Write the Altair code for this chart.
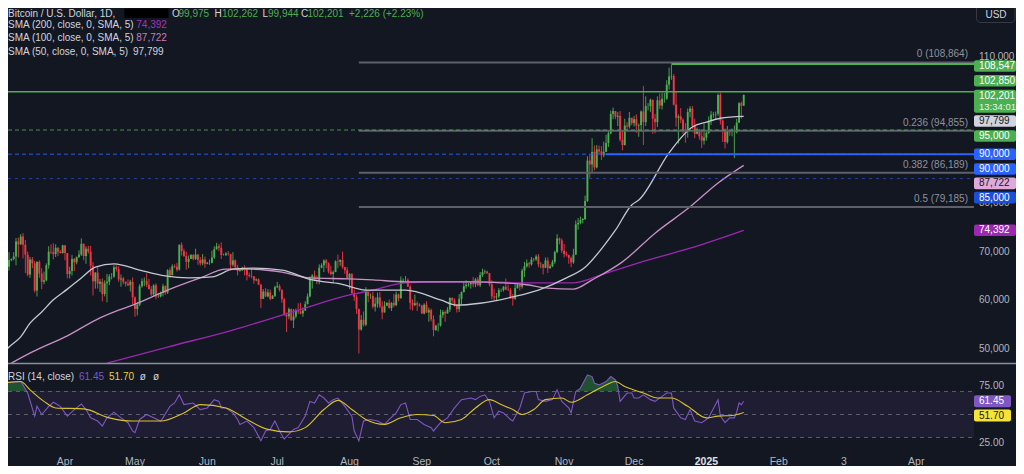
import altair as alt
import pandas as pd
from datetime import datetime, timedelta, timezone

# ---------------------------------------------------------------- data
# BTC/USD daily candles, values in thousand USD, 2024-03-04 .. 2025-01-17
FIRST_DAY = "2024-03-04"
FIRST_OPEN = 63.1

CLOSE_MAR = [68.3, 63.8, 66.1, 66.9, 68.3, 68.5, 69.0, 72.1, 71.5, 73.1, 71.4, 69.4, 65.3, 68.4,
             67.6, 62.0, 67.9, 65.5, 63.8, 64.1, 67.2, 70.0, 69.9, 69.5, 70.8, 70.0, 69.7, 71.3]
HIGH_MAR = [68.5, 69.2, 67.6, 67.9, 69.9, 68.6, 69.9, 72.8, 72.9, 73.6, 73.8, 72.4, 70.0, 68.9,
            68.9, 68.1, 68.0, 68.2, 66.6, 65.9, 67.6, 71.1, 71.5, 71.7, 71.5, 70.9, 70.3, 71.4]
LOW_MAR = [62.4, 59.2, 62.8, 65.7, 66.1, 68.0, 68.2, 67.2, 68.8, 71.4, 68.6, 65.6, 64.9, 64.6,
           66.6, 61.6, 60.8, 64.6, 62.3, 63.3, 63.9, 66.5, 69.5, 68.4, 68.9, 69.1, 69.6, 69.6]

CLOSE_APR = [69.7, 65.4, 66.0, 68.5, 67.8, 68.9, 69.4, 71.6, 69.1, 70.6, 70.0, 67.1, 63.9, 65.7, 63.4,
             63.8, 61.3, 63.5, 63.8, 64.9, 64.9, 66.8, 66.4, 64.3, 64.5, 63.8, 63.4, 63.1, 63.8, 60.6]
HIGH_APR = [71.3, 69.7, 66.9, 69.3, 68.7, 69.0, 70.3, 72.7, 71.7, 71.1, 71.2, 71.2, 67.9, 65.8, 66.8,
            64.4, 64.5, 64.1, 65.4, 65.4, 65.6, 67.2, 67.2, 67.0, 65.3, 64.8, 63.9, 64.3, 64.2, 64.7]
LOW_APR = [68.2, 64.5, 64.5, 65.1, 66.0, 67.4, 68.7, 69.1, 68.2, 67.5, 69.6, 65.1, 61.0, 62.4, 62.4,
           61.7, 59.8, 60.8, 59.6, 63.1, 64.3, 64.6, 65.9, 63.8, 62.8, 63.3, 62.8, 62.9, 61.8, 59.1]

CLOSE_MAY = [58.2, 59.1, 62.9, 63.9, 64.0, 63.2, 62.3, 61.2, 63.1, 60.8, 60.8, 61.5, 62.9, 61.6, 66.2, 65.2,
             67.0, 66.9, 66.3, 71.4, 70.1, 69.1, 67.9, 68.5, 69.3, 68.5, 69.4, 68.3, 67.6, 68.4, 67.5]
HIGH_MAY = [60.8, 59.6, 63.3, 64.5, 64.7, 65.5, 64.4, 62.9, 63.3, 63.5, 61.5, 61.8, 63.4, 63.1, 66.4, 66.7,
            67.4, 67.4, 67.7, 71.5, 71.9, 70.6, 70.0, 69.2, 69.5, 69.5, 70.6, 69.5, 68.9, 69.5, 69.0]
LOW_MAY = [56.6, 56.9, 58.8, 62.6, 62.9, 62.7, 62.2, 60.9, 60.7, 60.2, 60.5, 60.6, 60.8, 61.1, 61.3, 64.6,
           65.1, 66.6, 65.9, 66.1, 69.2, 68.9, 66.3, 66.6, 68.5, 68.2, 68.3, 67.3, 67.1, 67.2, 66.7]

CLOSE_JUN = [67.7, 67.7, 68.8, 70.5, 71.1, 70.8, 69.3, 69.3, 69.6, 69.5, 67.3, 68.2, 66.8, 66.0, 66.2,
             66.6, 66.5, 65.2, 65.0, 64.9, 64.1, 64.3, 63.2, 60.3, 61.8, 60.8, 61.6, 60.3, 60.9, 62.7]
HIGH_JUN = [67.9, 68.4, 70.2, 71.1, 71.8, 71.6, 71.9, 69.6, 69.9, 70.1, 69.6, 69.9, 68.4, 67.3, 66.4,
            66.9, 67.2, 66.6, 65.7, 66.5, 65.0, 64.5, 64.5, 63.4, 62.3, 62.5, 62.3, 62.2, 61.1, 63.0]
LOW_JUN = [67.4, 67.3, 67.6, 68.5, 70.4, 70.1, 68.5, 69.2, 69.1, 69.2, 66.1, 66.9, 66.3, 65.1, 65.9,
           66.0, 65.1, 64.1, 64.7, 64.5, 63.4, 63.9, 63.2, 58.4, 60.3, 60.7, 60.6, 60.0, 60.3, 60.7]

CLOSE_JUL = [62.9, 62.1, 60.2, 57.0, 56.7, 58.2, 55.9, 56.7, 58.0, 57.7, 57.3, 57.9, 59.2, 60.8, 64.8, 65.1,
             64.1, 63.9, 66.7, 67.2, 68.2, 67.6, 65.9, 65.4, 65.8, 68.0, 67.9, 68.3, 66.8, 66.2, 64.6]
HIGH_JUL = [63.8, 63.3, 62.3, 60.5, 57.5, 58.5, 58.3, 58.2, 58.3, 59.4, 59.5, 58.5, 59.8, 61.4, 64.9, 65.4,
            66.1, 65.1, 67.4, 67.6, 68.4, 68.5, 67.8, 67.1, 66.1, 68.2, 69.4, 68.4, 70.0, 66.9, 66.8]
LOW_JUL = [62.5, 61.8, 59.5, 56.8, 53.5, 56.1, 55.8, 54.3, 56.3, 57.2, 57.1, 56.6, 57.8, 59.2, 60.6, 62.4,
           63.9, 63.3, 63.3, 66.6, 65.8, 66.6, 65.5, 65.1, 63.5, 65.8, 66.6, 67.1, 66.5, 65.4, 64.5]

CLOSE_AUG = [65.4, 61.5, 60.7, 58.2, 54.0, 56.0, 55.0, 61.7, 60.9, 60.9, 58.7, 59.3, 60.6, 58.7, 57.5, 58.9,
             59.5, 58.4, 59.5, 59.0, 61.2, 60.4, 64.1, 64.2, 64.2, 62.8, 59.5, 59.0, 59.4, 59.1, 58.9]
HIGH_AUG = [65.6, 65.6, 62.2, 61.1, 58.3, 57.0, 57.7, 62.7, 61.7, 61.4, 61.8, 60.6, 61.6, 61.7, 59.8, 59.8,
            59.6, 60.2, 59.6, 61.3, 61.8, 61.4, 64.9, 64.5, 65.0, 64.5, 63.2, 60.2, 61.2, 59.8, 59.4]
LOW_AUG = [62.3, 61.2, 59.9, 57.2, 49.1, 53.8, 54.6, 54.7, 59.6, 60.3, 58.3, 57.7, 58.5, 58.4, 56.1, 57.5,
           58.8, 58.3, 57.8, 58.6, 58.8, 59.8, 60.4, 63.6, 63.8, 62.8, 58.1, 57.9, 58.8, 57.8, 58.7]

CLOSE_SEP = [57.3, 59.1, 57.5, 58.0, 56.1, 53.9, 54.8, 54.8, 57.0, 57.6, 57.3, 58.1, 60.5, 60.0, 59.1,
             58.2, 60.3, 61.7, 62.9, 63.2, 63.3, 63.6, 63.3, 64.3, 63.1, 65.2, 65.8, 65.9, 65.6, 63.3]
HIGH_SEP = [59.1, 59.4, 59.8, 58.5, 58.3, 56.9, 55.0, 55.3, 58.1, 58.0, 57.9, 58.6, 60.6, 60.6, 60.4,
            59.2, 61.3, 61.8, 63.8, 64.1, 63.6, 63.9, 64.8, 64.6, 64.8, 65.8, 66.5, 66.3, 66.1, 65.6]
LOW_SEP = [57.2, 57.1, 57.4, 55.6, 55.7, 52.6, 53.7, 53.6, 54.6, 56.4, 55.6, 57.3, 57.6, 59.5, 58.7,
           57.5, 57.6, 59.2, 61.6, 62.4, 62.8, 62.4, 62.7, 62.7, 62.9, 62.7, 64.8, 65.4, 65.4, 62.9]

CLOSE_OCT = [60.8, 60.6, 60.8, 62.1, 62.1, 62.8, 62.2, 62.1, 60.6, 60.3, 62.5, 63.2, 62.8, 66.1, 67.0, 67.6,
             67.4, 68.4, 68.4, 69.0, 67.4, 67.4, 66.7, 68.2, 66.6, 67.0, 67.9, 69.9, 72.7, 72.3, 70.2]
HIGH_OCT = [64.1, 62.4, 61.5, 62.5, 62.4, 62.9, 64.5, 63.2, 62.5, 61.3, 63.4, 63.5, 63.3, 66.5, 67.9, 68.4,
            67.9, 68.9, 68.7, 69.4, 69.5, 67.8, 67.5, 68.8, 68.8, 67.4, 68.3, 70.2, 73.6, 72.9, 72.7]
LOW_OCT = [60.2, 60.0, 59.8, 60.5, 61.7, 61.8, 62.1, 61.9, 60.3, 58.9, 60.1, 62.4, 62.0, 62.4, 64.8, 66.7,
           66.7, 67.1, 68.0, 68.1, 66.8, 66.6, 65.3, 66.6, 65.6, 66.5, 66.8, 67.5, 69.7, 71.5, 69.7]

CLOSE_NOV = [69.5, 69.3, 68.7, 67.8, 69.4, 75.6, 75.9, 76.5, 76.7, 80.4, 88.7, 87.9, 90.5, 87.3, 91.0,
             90.6, 89.8, 90.5, 92.3, 94.3, 98.3, 98.9, 97.7, 97.9, 93.0, 91.9, 95.9, 95.7, 97.5, 96.4]
HIGH_NOV = [71.6, 70.0, 69.4, 69.0, 70.6, 76.4, 76.9, 77.2, 76.9, 81.5, 89.6, 89.9, 93.3, 91.8, 91.9,
            91.8, 91.7, 92.6, 94.0, 94.9, 99.0, 99.6, 98.9, 98.7, 98.9, 94.7, 97.3, 96.6, 98.7, 97.5]
LOW_NOV = [68.8, 69.0, 67.5, 66.8, 67.5, 69.3, 74.5, 75.6, 75.8, 76.5, 80.2, 85.2, 86.3, 86.7, 87.1,
           90.1, 88.8, 89.4, 90.5, 91.5, 94.1, 97.2, 97.2, 95.8, 92.6, 90.8, 91.8, 94.7, 95.3, 96.0]

CLOSE_DEC = [97.2, 95.9, 96.0, 98.8, 96.6, 99.9, 99.9, 101.2, 97.3, 96.6, 101.1, 100.0, 101.4, 101.4, 104.3, 106.0,
             106.1, 100.2, 97.5, 97.8, 97.1, 95.1, 94.7, 98.7, 99.4, 95.8, 94.2, 95.1, 93.7, 92.8, 93.4]
HIGH_DEC = [97.9, 98.2, 96.3, 99.0, 104.0, 101.9, 100.5, 101.4, 101.2, 98.3, 101.9, 102.5, 102.6, 102.6, 105.2, 107.8,
            108.4, 106.5, 102.8, 98.2, 99.5, 97.4, 96.4, 99.4, 99.9, 99.9, 97.3, 95.5, 95.2, 94.9, 96.2]
LOW_DEC = [95.7, 94.4, 93.6, 94.7, 91.9, 95.8, 99.0, 98.7, 94.2, 94.3, 95.6, 99.3, 99.2, 100.6, 101.2, 103.3,
           105.3, 100.0, 95.7, 92.2, 96.4, 94.2, 92.4, 93.4, 97.6, 95.2, 93.3, 94.1, 93.0, 91.3, 92.0]

CLOSE_JAN = [94.4, 96.9, 98.1, 98.2, 98.3, 102.2, 96.9, 95.0, 92.5, 94.7, 94.5, 94.5, 94.5, 96.5, 100.5, 99.975, 102.201]
HIGH_JAN = [94.9, 97.8, 98.9, 98.7, 98.8, 102.5, 102.7, 97.2, 95.3, 95.8, 94.9, 95.3, 95.9, 97.3, 100.7, 100.8, 102.262]
LOW_JAN = [92.8, 94.2, 96.0, 97.5, 97.3, 97.9, 96.1, 92.5, 91.2, 92.2, 93.8, 93.7, 89.2, 94.3, 96.5, 97.3, 99.944]

# moving averages (thousand USD)
SMA50_DATES = ["2024-03-04", "2024-03-08", "2024-03-13", "2024-03-17", "2024-03-22", "2024-03-27", "2024-04-02",
               "2024-04-08", "2024-04-14", "2024-04-22", "2024-05-03", "2024-05-14", "2024-05-24", "2024-06-03",
               "2024-06-12", "2024-06-21", "2024-07-03", "2024-07-16", "2024-07-28", "2024-08-08", "2024-08-25",
               "2024-09-09", "2024-09-16", "2024-09-26", "2024-10-10", "2024-10-21", "2024-11-02", "2024-11-10",
               "2024-11-19", "2024-11-23", "2024-11-30", "2024-12-03", "2024-12-16", "2024-12-26", "2025-01-01",
               "2025-01-07", "2025-01-17"]
SMA50 = [48.2, 50.4, 52.5, 55.3, 57.6, 60.1, 62.3, 64.6, 66.8, 67.5, 66.2, 65.0, 64.6, 64.8, 66.4, 66.6, 66.2,
         64.2, 63.4, 62.1, 62.1, 60.1, 59.0, 59.4, 60.7, 62.1, 64.6, 66.8, 71.8, 74.4, 79.6, 80.6, 90.3, 95.6,
         96.6, 97.4, 97.799]

SMA100_DATES = ["2024-03-09", "2024-03-18", "2024-04-02", "2024-04-16", "2024-04-24", "2024-04-30", "2024-05-15",
                "2024-05-29", "2024-06-09", "2024-06-19", "2024-07-03", "2024-07-15", "2024-08-01", "2024-08-11",
                "2024-08-25", "2024-09-09", "2024-09-23", "2024-10-05", "2024-10-16", "2024-10-25", "2024-11-05",
                "2024-11-13", "2024-11-26", "2024-12-10", "2024-12-25", "2025-01-06", "2025-01-17"]
SMA100 = [47.1, 49.4, 52.7, 56.4, 58.0, 59.0, 62.1, 64.6, 66.4, 66.4, 65.8, 64.6, 64.4, 64.2, 63.8, 63.8, 63.8,
          63.6, 63.2, 62.5, 62.3, 64.2, 67.9, 73.8, 79.2, 84.1, 87.722]

SMA200_DATES = ["2024-04-19", "2024-05-15", "2024-06-12", "2024-07-10", "2024-08-01", "2024-08-11", "2024-08-25",
                "2024-09-09", "2024-09-30", "2024-10-14", "2024-11-05", "2024-11-19", "2024-12-03", "2024-12-25",
                "2025-01-17"]
SMA200 = [47.1, 50.4, 53.9, 58.0, 61.1, 62.1, 63.6, 63.8, 63.8, 63.6, 63.6, 65.6, 67.7, 70.7, 74.392]

# RSI (14) and its moving average
RSI_DATES = ["2024-03-04", "2024-03-13", "2024-03-14", "2024-03-16", "2024-03-19", "2024-03-20", "2024-03-22",
             "2024-03-25", "2024-03-27", "2024-03-30",
             "2024-04-02", "2024-04-05", "2024-04-08", "2024-04-10", "2024-04-12", "2024-04-15", "2024-04-17",
             "2024-04-19", "2024-04-22", "2024-04-25", "2024-04-28", "2024-04-30",
             "2024-05-01", "2024-05-03", "2024-05-06", "2024-05-09", "2024-05-12", "2024-05-13", "2024-05-16",
             "2024-05-18", "2024-05-20", "2024-05-22", "2024-05-26", "2024-05-29",
             "2024-06-01", "2024-06-04", "2024-06-06", "2024-06-07", "2024-06-09", "2024-06-12", "2024-06-14",
             "2024-06-15", "2024-06-18", "2024-06-21", "2024-06-24", "2024-06-26", "2024-06-28", "2024-06-30",
             "2024-07-02", "2024-07-04", "2024-07-06", "2024-07-08", "2024-07-10", "2024-07-13", "2024-07-15",
             "2024-07-17", "2024-07-19", "2024-07-21", "2024-07-23", "2024-07-25", "2024-07-27", "2024-07-30",
             "2024-08-02", "2024-08-03", "2024-08-05", "2024-08-07", "2024-08-10", "2024-08-13", "2024-08-16",
             "2024-08-18", "2024-08-21", "2024-08-23", "2024-08-25", "2024-08-27", "2024-08-30",
             "2024-09-02", "2024-09-05", "2024-09-06", "2024-09-09", "2024-09-12", "2024-09-15", "2024-09-18",
             "2024-09-22", "2024-09-24", "2024-09-26", "2024-09-28", "2024-09-30",
             "2024-10-02", "2024-10-04", "2024-10-06", "2024-10-09", "2024-10-10", "2024-10-13", "2024-10-15",
             "2024-10-18", "2024-10-20", "2024-10-21", "2024-10-24", "2024-10-27", "2024-10-29", "2024-10-31",
             "2024-11-03", "2024-11-04", "2024-11-06", "2024-11-08", "2024-11-11", "2024-11-13", "2024-11-14",
             "2024-11-16", "2024-11-19", "2024-11-21", "2024-11-23", "2024-11-24", "2024-11-25", "2024-11-28",
             "2024-11-30",
             "2024-12-01", "2024-12-03", "2024-12-05", "2024-12-08", "2024-12-10", "2024-12-13", "2024-12-15",
             "2024-12-17", "2024-12-18", "2024-12-21", "2024-12-23", "2024-12-25", "2024-12-27", "2024-12-30",
             "2025-01-02", "2025-01-03", "2025-01-06", "2025-01-07", "2025-01-09", "2025-01-11", "2025-01-13",
             "2025-01-14", "2025-01-15", "2025-01-16", "2025-01-17"]
RSI = [77.1, 78.6, 75.7, 68.6, 48.6, 57.1, 50.0, 57.1, 60.6, 57.1,
       48.6, 54.3, 59.1, 54.3, 47.1, 44.3, 40.0, 47.1, 52.0, 47.1, 42.9, 35.7,
       34.3, 45.7, 50.0, 47.1, 44.3, 47.1, 57.1, 60.0, 67.1, 58.6, 60.0, 54.3,
       55.7, 62.9, 61.4, 55.7, 55.7, 51.4, 45.7, 41.4, 44.3, 38.6, 27.1, 35.7, 37.1, 44.3,
       35.7, 28.6, 32.9, 37.1, 38.6, 48.6, 61.4, 60.0, 67.1, 64.3, 60.0, 62.9, 64.3, 57.1,
       48.6, 35.7, 27.1, 44.3, 45.7, 44.3, 41.4, 45.7, 51.4, 58.6, 60.0, 45.7, 45.7,
       41.4, 38.6, 35.7, 42.9, 47.1, 55.7, 62.9, 64.3, 62.9, 65.7, 67.1, 61.4,
       47.1, 52.9, 51.4, 45.7, 44.3, 55.7, 68.6, 70.0, 70.0, 62.9, 61.4, 62.9, 71.4, 61.4,
       55.7, 51.4, 70.0, 72.9, 84.3, 82.9, 77.1, 75.7, 78.6, 82.9, 80.0, 74.3, 61.4, 68.6, 68.6,
       64.3, 64.3, 67.1, 62.9, 61.4, 65.7, 68.6, 68.6, 55.7, 47.1, 45.7, 54.3, 44.3, 42.9,
       47.1, 51.4, 62.9, 48.6, 42.9, 47.1, 47.1, 52.0, 60.0, 58.5, 61.45]

RSI_MA_DATES = ["2024-03-04", "2024-03-13", "2024-03-17", "2024-03-23", "2024-03-28", "2024-04-09", "2024-04-20",
                "2024-04-30", "2024-05-12", "2024-05-22", "2024-05-29", "2024-06-09", "2024-06-18", "2024-06-27",
                "2024-07-06", "2024-07-13", "2024-07-21", "2024-07-27", "2024-08-02", "2024-08-08", "2024-08-16",
                "2024-08-23", "2024-08-30", "2024-09-06", "2024-09-11", "2024-09-18", "2024-09-24", "2024-09-30",
                "2024-10-05", "2024-10-10", "2024-10-14", "2024-10-19", "2024-10-24", "2024-10-31", "2024-11-04",
                "2024-11-11", "2024-11-19", "2024-11-23", "2024-11-27", "2024-12-05", "2024-12-11", "2024-12-17",
                "2024-12-24", "2025-01-01", "2025-01-06", "2025-01-12", "2025-01-17"]
RSI_MA = [77.1, 78.6, 71.4, 61.4, 55.7, 54.9, 47.1, 44.3, 44.3, 51.4, 58.6, 55.7, 45.7, 37.1, 34.9, 38.6,
          54.3, 62.3, 54.3, 45.7, 41.4, 47.1, 50.0, 49.1, 42.9, 45.7, 55.7, 62.9, 58.6, 54.3, 50.0, 54.3,
          62.9, 64.3, 60.6, 67.1, 75.7, 78.6, 74.3, 68.6, 64.3, 64.3, 57.1, 47.1, 48.6, 49.1, 51.7]

# drawn levels (thousand USD)
FULL_LEVELS = [102.85, 95.0, 90.0, 85.0]
PART_LEVELS = [108.547, 90.0]
PART_STARTS = ["2024-12-17", "2024-11-19"]
FIB_START = "2024-08-05"
FIB_LEVELS = [108.864, 94.855, 86.189, 79.185]
FIB_TEXT = ["0 (108,864)", "0.236 (94,855)", "0.382 (86,189)", "0.5 (79,185)"]

# price scale
PRICE_TICKS = [110, 100, 90, 80, 70, 60, 50]
PRICE_TICK_TEXT = ["110,000", "100,000", "90,000", "80,000", "70,000", "60,000", "50,000"]
BOX_VALUES = [108.547, 102.85, 97.799, 95.0, 90.0, 90.0, 87.722, 85.0, 74.392]
BOX_TEXT = ["108,547", "102,850", "97,799", "95,000", "90,000", "90,000", "87,722", "85,000", "74,392"]
LAST_PRICE = 102.201
LAST_TEXT = "102,201"
COUNTDOWN = "13:34:01"
RSI_TICKS = [75, 25]
RSI_TICK_TEXT = ["75.00", "25.00"]
RSI_LAST = 61.45
RSI_MA_LAST = 51.70

# time axis
TIME_TICKS = ["2024-04-01", "2024-05-01", "2024-06-01", "2024-07-01", "2024-08-01", "2024-09-01",
              "2024-10-01", "2024-11-01", "2024-12-01", "2025-01-01", "2025-02-01", "2025-03-01", "2025-04-01"]
TIME_TEXT = ["Apr", "May", "Jun", "Jul", "Aug", "Sep", "Oct", "Nov", "Dec", "2025", "Feb", "3", "Apr"]

# ---------------------------------------------------------------- frames
closes = (CLOSE_MAR + CLOSE_APR + CLOSE_MAY + CLOSE_JUN + CLOSE_JUL + CLOSE_AUG + CLOSE_SEP +
          CLOSE_OCT + CLOSE_NOV + CLOSE_DEC + CLOSE_JAN)
highs = (HIGH_MAR + HIGH_APR + HIGH_MAY + HIGH_JUN + HIGH_JUL + HIGH_AUG + HIGH_SEP +
         HIGH_OCT + HIGH_NOV + HIGH_DEC + HIGH_JAN)
lows = (LOW_MAR + LOW_APR + LOW_MAY + LOW_JUN + LOW_JUL + LOW_AUG + LOW_SEP +
        LOW_OCT + LOW_NOV + LOW_DEC + LOW_JAN)
opens = [FIRST_OPEN] + closes[:-1]
days = pd.date_range(FIRST_DAY, periods=len(closes), freq="D").strftime("%Y-%m-%d")
candles = pd.DataFrame({"date": days, "open": opens, "high": highs, "low": lows, "close": closes})

# ---------------------------------------------------------------- layout / style
BG = "#131722"
UP, DOWN = "#4caf50", "#f23645"
GREEN, BLUE = "#4caf50", "#2962ff"
TXT, AX = "#d1d4dc", "#b2b5be"
FONT = "Liberation Sans"
W, H = 1008, 458          # fits the 1024x474 window inside the page's 8px margin
PLOT_R = 966              # right edge of the price pane
LBL_X = 971               # left edge of the price-scale texts
BOX_R = 1008
PX_PER_DAY = 2.3323
APR1_X = 57.0
t0 = datetime(2024, 4, 1, tzinfo=timezone.utc) - timedelta(days=APR1_X / PX_PER_DAY)
t1 = t0 + timedelta(days=W / PX_PER_DAY)
X_SCALE = alt.Scale(type="utc", domain=[int(t0.timestamp() * 1000), int(t1.timestamp() * 1000)])
Y_MAIN = alt.Scale(domain=[47.124, 120.049], range=[355, 0], zero=False, nice=False)
Y_RSI = alt.Scale(domain=[0, 100], range=[464.1, 348.9], zero=False, nice=False)
ONE = pd.DataFrame({"k": [0]})


def X(field="date"):
    return alt.X(f"{field}:T", scale=X_SCALE, axis=None)


def YM(field):
    return alt.Y(f"{field}:Q", scale=Y_MAIN, axis=None)


def YR(field):
    return alt.Y(f"{field}:Q", scale=Y_RSI, axis=None)


def txt(s, x, y, color=TXT, size=10, weight="normal", align="left"):
    return alt.Chart(ONE).mark_text(text=s, font=FONT, fontSize=size, fontWeight=weight, color=color,
                                    align=align, baseline="middle").encode(x=alt.value(x), y=alt.value(y))


layers = []

# RSI pane background pieces
rsi_df = pd.DataFrame({"date": RSI_DATES, "v": RSI})
layers.append(alt.Chart(rsi_df).mark_area(color="#2e8b3e", opacity=0.5, clip=True).encode(
    x=X(), y=YR("v"), y2=alt.datum(70)))
band = pd.DataFrame({"hi": [70], "lo": [30], "z": [0]})
layers.append(alt.Chart(band).mark_rect(color="#1e1d32").encode(
    x=alt.value(0), x2=alt.value(PLOT_R), y=YR("hi"), y2="lo:Q"))
layers.append(alt.Chart(band).mark_rect(color=BG).encode(
    x=alt.value(0), x2=alt.value(PLOT_R), y=YR("lo"), y2="z:Q"))
lv = pd.DataFrame({"v": [70, 50, 30]})
layers.append(alt.Chart(lv).mark_rule(color="#787b86", opacity=0.7, strokeDash=[4, 4], strokeWidth=1).encode(
    x=alt.value(0), x2=alt.value(PLOT_R), y=YR("v")))

# candles
cbase = alt.Chart(candles).transform_calculate(dir="datum.close >= datum.open ? 'up' : 'down'")
CCOL = alt.Color("dir:N", scale=alt.Scale(domain=["up", "down"], range=[UP, DOWN]), legend=None)
layers.append(cbase.mark_rule(strokeWidth=0.9, clip=True).encode(x=X(), y=YM("low"), y2="high:Q", color=CCOL))
layers.append(cbase.mark_rule(strokeWidth=1.9, clip=True).encode(x=X(), y=YM("open"), y2="close:Q", color=CCOL))

# moving averages
for d, v, c in [(SMA200_DATES, SMA200, "#9c27b0"), (SMA100_DATES, SMA100, "#c890c5"),
                (SMA50_DATES, SMA50, "#c5c8d0")]:
    layers.append(alt.Chart(pd.DataFrame({"date": d, "v": v})).mark_line(
        color=c, strokeWidth=1.3, interpolate="monotone", clip=True).encode(x=X(), y=YM("v")))

# fib levels
fib = pd.DataFrame({"start": [FIB_START] * len(FIB_LEVELS), "v": FIB_LEVELS, "t": FIB_TEXT})
layers.append(alt.Chart(fib).mark_rule(color="#5d606b", strokeWidth=2).encode(
    x=X("start"), x2=alt.value(PLOT_R), y=YM("v")))
layers.append(alt.Chart(fib).mark_text(color="#8f929b", font=FONT, fontSize=10, align="right",
                                       baseline="middle", dy=-8).encode(
    x=alt.value(960), y=YM("v"), text="t:N"))

# drawn horizontal levels
full_styles = [dict(color=GREEN, strokeWidth=1.5),
               dict(color=GREEN, strokeWidth=1.5, opacity=0.55, strokeDash=[4, 3]),
               dict(color=BLUE, strokeWidth=1.5, opacity=0.6, strokeDash=[4, 3]),
               dict(color=BLUE, strokeWidth=1, opacity=0.6, strokeDash=[3, 4])]
for v, st in zip(FULL_LEVELS, full_styles):
    layers.append(alt.Chart(pd.DataFrame({"v": [v]})).mark_rule(**st).encode(
        x=alt.value(0), x2=alt.value(PLOT_R), y=YM("v")))
part_styles = [dict(color=GREEN, strokeWidth=2), dict(color=BLUE, strokeWidth=2)]
for v, s, st in zip(PART_LEVELS, PART_STARTS, part_styles):
    layers.append(alt.Chart(pd.DataFrame({"v": [v], "start": [s]})).mark_rule(**st).encode(
        x=X("start"), x2=alt.value(PLOT_R), y=YM("v")))

# RSI lines
layers.append(alt.Chart(rsi_df).mark_line(color="#7e57c2", strokeWidth=1.1, clip=True).encode(x=X(), y=YR("v")))
layers.append(alt.Chart(pd.DataFrame({"date": RSI_MA_DATES, "v": RSI_MA})).mark_line(
    color="#d9c22e", strokeWidth=1.1, interpolate="monotone", clip=True).encode(x=X(), y=YR("v")))

# pane separator
layers.append(alt.Chart(ONE).mark_rule(color="#8d9099", strokeWidth=1.5).encode(
    x=alt.value(0), x2=alt.value(W), y=alt.value(355.5)))

# price scale labels
ticks = pd.DataFrame({"v": PRICE_TICKS, "t": PRICE_TICK_TEXT})
layers.append(alt.Chart(ticks).mark_text(color=AX, font=FONT, fontSize=10, align="left",
                                         baseline="middle").encode(x=alt.value(LBL_X), y=YM("v"), text="t:N"))
rt = pd.DataFrame({"v": RSI_TICKS, "t": RSI_TICK_TEXT})
layers.append(alt.Chart(rt).mark_text(color=AX, font=FONT, fontSize=10, align="left",
                                      baseline="middle").encode(x=alt.value(LBL_X), y=YR("v"), text="t:N"))

box_styles = [(GREEN, "#ffffff", 2), (GREEN, "#ffffff", -11), ("#d1d4dc", "#131722", 4.7),
              (GREEN, "#ffffff", 6), (BLUE, "#ffffff", 0), (BLUE, "#ffffff", 14.7),
              ("#e0a9dc", "#131722", 18), ("#1c4fd8", "#ffffff", 19), ("#9c27b0", "#ffffff", 0)]
for v, t, (fill, tc, off) in zip(BOX_VALUES, BOX_TEXT, box_styles):
    d = pd.DataFrame({"v": [v], "t": [t]})
    layers.append(alt.Chart(d).mark_rect(color=fill, cornerRadius=2, yOffset=off - 5.8, y2Offset=off + 5.8).encode(
        x=alt.value(PLOT_R), x2=alt.value(BOX_R), y=YM("v"), y2="v:Q"))
    layers.append(alt.Chart(d).mark_text(color=tc, font=FONT, fontSize=10, align="left", baseline="middle",
                                         dy=off).encode(x=alt.value(LBL_X), y=YM("v"), text="t:N"))
lp = pd.DataFrame({"v": [LAST_PRICE], "t": [LAST_TEXT], "c": [COUNTDOWN]})
layers.append(alt.Chart(lp).mark_rect(color=GREEN, cornerRadius=2, yOffset=-5.2, y2Offset=17.8).encode(
    x=alt.value(PLOT_R), x2=alt.value(W), y=YM("v"), y2="v:Q"))
layers.append(alt.Chart(lp).mark_text(color="#ffffff", font=FONT, fontSize=10, align="left",
                                      baseline="middle", dy=0.8).encode(x=alt.value(LBL_X), y=YM("v"), text="t:N"))
layers.append(alt.Chart(lp).mark_text(color="#e8f5e9", font=FONT, fontSize=9.5, align="left",
                                      baseline="middle", dy=12.4).encode(x=alt.value(LBL_X), y=YM("v"), text="c:N"))

rb = pd.DataFrame({"v": [RSI_LAST, RSI_MA_LAST], "t": ["61.45", "51.70"]})
for i, (fill, tc, off) in enumerate([("#7e57c2", "#ffffff", 0), ("#f5e23a", "#131722", 3)]):
    d = rb.iloc[[i]]
    layers.append(alt.Chart(d).mark_rect(color=fill, cornerRadius=2, yOffset=off - 6, y2Offset=off + 6).encode(
        x=alt.value(PLOT_R), x2=alt.value(1003), y=YR("v"), y2="v:Q"))
    layers.append(alt.Chart(d).mark_text(color=tc, font=FONT, fontSize=10, align="left", baseline="middle",
                                         dy=off).encode(x=alt.value(LBL_X), y=YR("v"), text="t:N"))

# time axis labels
tt = pd.DataFrame({"date": TIME_TICKS, "t": TIME_TEXT})
layers.append(alt.Chart(tt).transform_filter("datum.t != '2025'").mark_text(
    color=AX, font=FONT, fontSize=10.5, baseline="middle").encode(x=X(), y=alt.value(453.5), text="t:N"))
layers.append(alt.Chart(tt).transform_filter("datum.t == '2025'").mark_text(
    color="#e0e3eb", font=FONT, fontSize=10.5, fontWeight="bold", baseline="middle").encode(
    x=X(), y=alt.value(453.5), text="t:N"))

# USD button
layers.append(alt.Chart(ONE).mark_rect(fill=BG, stroke="#363a45", strokeWidth=1, cornerRadius=4).encode(
    x=alt.value(968.5), x2=alt.value(1007), y=alt.value(-6), y2=alt.value(14.5)))
layers.append(txt("USD", 988, 6.5, color=TXT, size=10, align="center"))

# legend texts (top-left)
layers += [
    txt("Bitcoin / U.S. Dollar, 1D,", 0, 5.5),
    alt.Chart(ONE).mark_rect(color="#000000").encode(x=alt.value(116.5), x2=alt.value(160.5),
                                                     y=alt.value(0.5), y2=alt.value(10)),
    txt("O", 164, 5.5), txt("99,975", 170.5, 5.5, GREEN),
    txt("H", 206.5, 5.5), txt("102,262", 214, 5.5, GREEN),
    txt("L", 254.5, 5.5), txt("99,944", 260, 5.5, GREEN),
    txt("C", 293, 5.5), txt("102,201", 299.5, 5.5, GREEN),
    txt("+2,226 (+2.23%)", 341, 5.5, GREEN),
    txt("SMA (200, close, 0, SMA, 5)", 0, 16.5), txt("74,392", 128.3, 16.5, "#a535bb"),
    txt("SMA (100, close, 0, SMA, 5)", 0, 30), txt("87,722", 128.3, 30, "#c17fbe"),
    txt("SMA (50, close, 0, SMA, 5)", 0, 44), txt("97,799", 125, 44, TXT),
    txt("RSI (14, close)", 0, 368.7), txt("61.45", 71, 368.7, "#7e57c2"),
    txt("51.70", 101, 368.7, "#e5d13b"), txt("ø", 131.7, 368.7), txt("ø", 145, 368.7),
]

chart = alt.layer(*layers).resolve_scale(y="independent").properties(
    width=W, height=H, background=BG, padding=0,
    autosize=alt.AutoSizeParams(type="none"),
).configure_view(strokeWidth=0)

chart.save("out.html", embed_options={"renderer": "svg", "actions": False})
